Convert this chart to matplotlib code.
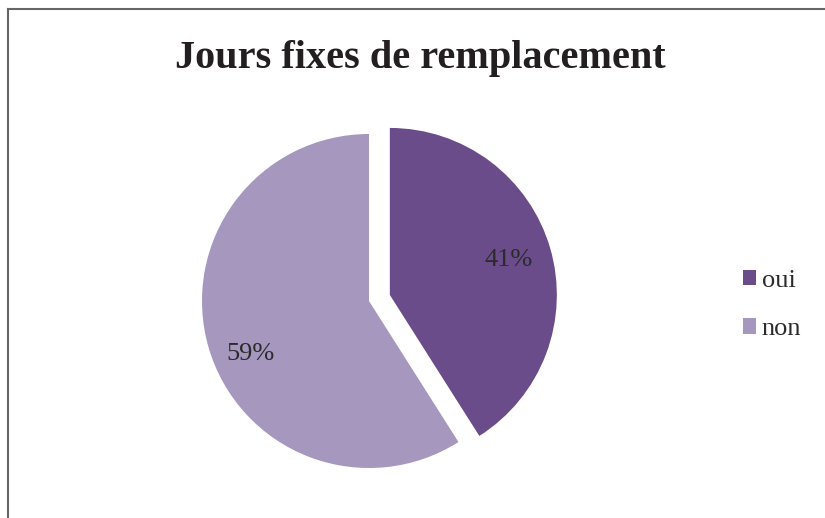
import matplotlib.pyplot as plt
from matplotlib.lines import Line2D

# Données du graphique
labels = ['oui', 'non']
valeurs = [41, 59]
couleurs = ['#6a4c8b', '#a597bd']
titre = 'Jours fixes de remplacement'

W, H = 825, 518
fig = plt.figure(figsize=(W / 100, H / 100), dpi=100)
plt.rcParams['font.family'] = ['Liberation Serif', 'DejaVu Serif']

# centre du camembert (pixels) et rayon
cx, cy, r = 369, H - 301, 167
ax = fig.add_axes([0, 0, 1, 1])
parts, textes, pcts = ax.pie(valeurs, colors=couleurs, explode=[0.13, 0],
                             startangle=90, counterclock=False,
                             autopct='%1.0f%%', pctdistance=0.74,
                             textprops={'fontsize': 19, 'color': '#2b2b2b'})
# étiquette "59%" un peu plus bas, comme dans Excel
x, y = pcts[1].get_position()
pcts[1].set_position((x, y - 0.11))
ax.set_xlim(-cx / r, (W - cx) / r)
ax.set_ylim(-cy / r, (H - cy) / r)
ax.set_aspect('auto')
ax.axis('off')

fig.text(420 / W, 1 - 68 / H, titre, ha='center', va='baseline',
         fontsize=29, fontweight='bold', color='#231f20')

fig.legend(parts, labels, loc='center left', bbox_to_anchor=(719 / W, 1 - 305 / H),
           frameon=False, fontsize=19, handlelength=0.52, handleheight=0.52,
           handletextpad=0.2, labelspacing=1.0, labelcolor='#2b2b2b')

# cadre du graphique
fig.add_artist(Line2D([8 / W, 1], [1 - 9 / H, 1 - 9 / H], color='#666666', lw=1.5))
fig.add_artist(Line2D([8 / W, 8 / W], [0, 1 - 9 / H], color='#666666', lw=1.5))

fig.savefig('out.png', dpi=100)
